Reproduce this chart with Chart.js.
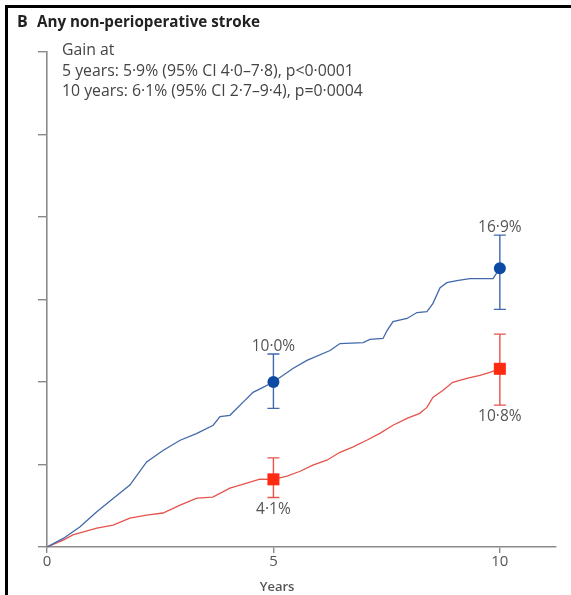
<!DOCTYPE html>
<html>
<head>
<meta charset="utf-8">
<script src="https://cdn.jsdelivr.net/npm/chart.js@4.4.0/dist/chart.umd.min.js"></script>
<style>
  html, body { margin: 0; padding: 0; background: #fff; }
  #wrap { position: relative; width: 571px; height: 595px; overflow: hidden; }
  #frame { position: absolute; left: 5px; top: 5px; width: 600px; height: 620px;
           border-left: 3px solid #000; border-top: 3px solid #000; }
  canvas { position: absolute; left: 0; top: 0; }
  .hd { position: absolute; font-family: "Open Sans", "Liberation Sans", sans-serif; color: #333; white-space: nowrap; }
</style>
</head>
<body>
<div id="wrap">
  <div id="frame"></div>
  <canvas id="c" width="571" height="595"></canvas>
  <div class="hd" style="left:17px; top:10px; font-weight:bold; font-size:16px; color:#222;">B</div>
  <div class="hd" style="left:37px; top:11px; font-weight:bold; font-size:15.2px; color:#222;">Any non-perioperative stroke</div>
  <div class="hd" style="left:62px; top:39px; font-size:15.8px; line-height:20.5px; color:#444;">
    Gain at<br>
    5 years: 5·9% (95% CI 4·0–7·8), p&lt;0·0001<br>
    10 years: 6·1% (95% CI 2·7–9·4), p=0·0004
  </div>
</div>
<script>
// Cumulative risk of any non-perioperative stroke (%), by years of follow-up
const blueYears = [0, 0.36, 0.73, 1.10, 1.46, 1.83, 2.20, 2.57, 2.94, 3.30, 3.67, 3.82, 4.04, 4.33, 4.55, 4.77, 5.0,
                   5.43, 5.74, 6.25, 6.47, 6.98, 7.13, 7.42, 7.51, 7.64, 7.95, 8.17, 8.39, 8.52, 8.68, 8.83, 9.05, 9.34, 9.85, 10.0];
const blueRisk  = [0, 0.52, 1.23, 2.14, 2.94, 3.75, 5.16, 5.86, 6.47, 6.87, 7.38, 7.90, 7.98, 8.78, 9.37, 9.67, 10.0,
                   10.82, 11.31, 11.91, 12.33, 12.39, 12.58, 12.64, 13.12, 13.66, 13.85, 14.21, 14.27, 14.75, 15.72, 16.02, 16.14, 16.26, 16.26, 16.9];

const redYears = [0, 0.36, 0.57, 1.10, 1.46, 1.83, 2.20, 2.56, 2.94, 3.31, 3.66, 4.04, 4.41, 4.70, 5.0,
                  5.30, 5.59, 5.87, 6.18, 6.47, 6.75, 7.06, 7.35, 7.64, 7.95, 8.23, 8.39, 8.52, 8.74, 8.96, 9.27, 9.56, 9.78, 10.0];
const redRisk  = [0, 0.42, 0.73, 1.15, 1.33, 1.75, 1.93, 2.06, 2.54, 2.96, 3.02, 3.57, 3.87, 4.11, 4.1,
                  4.29, 4.59, 4.96, 5.26, 5.74, 6.05, 6.47, 6.89, 7.38, 7.80, 8.10, 8.46, 9.07, 9.49, 9.98, 10.22, 10.40, 10.58, 10.8];

// Estimates with 95% CI at 5 and 10 years
const estYears  = [5, 10];
const blueEst   = [10.0, 16.9];
const blueLow   = [8.4, 14.4];
const blueHigh  = [11.7, 18.9];
const redEst    = [4.1, 10.8];
const redLow    = [3.0, 8.6];
const redHigh   = [5.4, 12.9];

const xTicks = [0, 5, 10];
const axisTitle = 'Years';

const FONT = '"Open Sans", "Liberation Sans", sans-serif';
const BLUE_LINE = '#4169ab', BLUE_MARK = '#0c4aa3';
const RED_LINE = '#e4544d', RED_MARK = '#ff2a12';
const AXIS = '#8a8a8a', TEXT = '#555';

const pts = (xs, ys) => xs.map((v, i) => ({ x: v, y: ys[i] }));
const fmt = v => v.toFixed(1).replace('.', '·') + '%';

const groups = [
  { est: blueEst, low: blueLow, high: blueHigh, color: BLUE_LINE, above: true },
  { est: redEst,  low: redLow,  high: redHigh,  color: RED_LINE,  above: false }
];

// Error bars under the markers, value labels beside them, axis title under the 5-year tick
const ciPlugin = {
  id: 'ciBars',
  beforeDatasetsDraw(chart) {
    const { ctx, scales: { x, y } } = chart;
    ctx.save();
    groups.forEach(g => {
      estYears.forEach((t, i) => {
        const px = x.getPixelForValue(t);
        const lo = y.getPixelForValue(g.low[i]);
        const hi = y.getPixelForValue(g.high[i]);
        ctx.strokeStyle = g.color;
        ctx.lineWidth = 1.4;
        ctx.beginPath();
        ctx.moveTo(px, lo); ctx.lineTo(px, hi);
        ctx.moveTo(px - 6, lo); ctx.lineTo(px + 6, lo);
        ctx.moveTo(px - 6, hi); ctx.lineTo(px + 6, hi);
        ctx.stroke();
      });
    });
    ctx.restore();
  },
  afterDatasetsDraw(chart) {
    const { ctx, scales: { x, y } } = chart;
    ctx.save();
    ctx.font = '15.5px ' + FONT;
    ctx.fillStyle = TEXT;
    ctx.textAlign = 'center';
    groups.forEach(g => {
      estYears.forEach((t, i) => {
        const px = x.getPixelForValue(t);
        if (g.above) {
          ctx.textBaseline = 'bottom';
          ctx.fillText(fmt(g.est[i]), px, y.getPixelForValue(g.high[i]) - 0);
        } else {
          ctx.textBaseline = 'top';
          ctx.fillText(fmt(g.est[i]), px, y.getPixelForValue(g.low[i]) + 4);
        }
      });
    });
    ctx.font = '600 13px ' + FONT;
    ctx.textBaseline = 'middle';
    ctx.fillText(axisTitle, x.getPixelForValue(5.08), 587);
    ctx.restore();
  }
};

new Chart(document.getElementById('c'), {
  type: 'scatter',
  data: {
    datasets: [
      { data: pts(estYears, blueEst), pointStyle: 'circle', pointRadius: 6, pointHoverRadius: 6,
        backgroundColor: BLUE_MARK, borderColor: BLUE_MARK, borderWidth: 0, order: 0 },
      { data: pts(estYears, redEst), pointStyle: 'rect', pointRadius: 8.5, pointHoverRadius: 8.5,
        backgroundColor: RED_MARK, borderColor: RED_MARK, borderWidth: 0, order: 0 },
      { type: 'line', data: pts(blueYears, blueRisk), borderColor: BLUE_LINE,
        borderWidth: 1.3, pointRadius: 0, fill: false, tension: 0, order: 1 },
      { type: 'line', data: pts(redYears, redRisk), borderColor: RED_LINE,
        borderWidth: 1.3, pointRadius: 0, fill: false, tension: 0, order: 1 }
    ]
  },
  options: {
    responsive: false,
    animation: false,
    layout: { padding: { left: 38, right: 15, top: 52, bottom: 0 } },
    plugins: { legend: { display: false }, tooltip: { enabled: false } },
    scales: {
      x: {
        type: 'linear', min: 0, max: 11.24,
        afterBuildTicks: s => { s.ticks = xTicks.map(v => ({ value: v })); },
        afterFit: s => { s.height = 48; },
        ticks: { color: TEXT, font: { family: FONT, size: 15 }, padding: 0 },
        grid: { drawOnChartArea: false, drawTicks: true, tickLength: 6, color: AXIS, lineWidth: 1.4 },
        border: { color: AXIS, width: 1.6 }
      },
      y: {
        min: 0, max: 30,
        ticks: { display: false, stepSize: 5 },
        afterFit: s => { s.width = 9; },
        grid: { drawOnChartArea: false, drawTicks: true, tickLength: 9, color: AXIS, lineWidth: 1.4 },
        border: { color: AXIS, width: 1.6 }
      }
    }
  },
  plugins: [ciPlugin]
});
</script>
</body>
</html>
